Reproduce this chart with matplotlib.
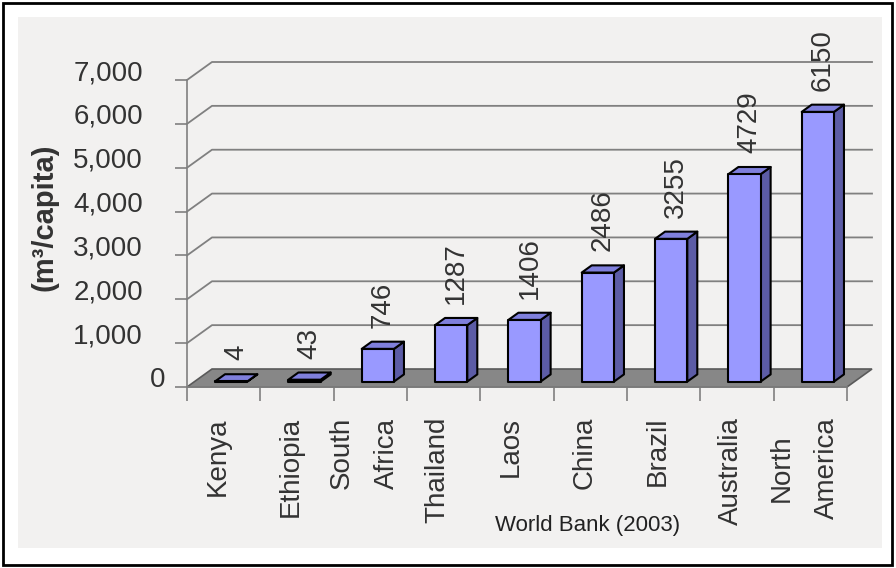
import matplotlib
matplotlib.use("Agg")
import matplotlib.pyplot as plt
import matplotlib.transforms as mtransforms
from matplotlib.patches import Polygon, Rectangle

plt.rcParams['font.family'] = ['Liberation Sans', 'DejaVu Sans']

# data
countries = ['Kenya', 'Ethiopia', 'South\nAfrica', 'Thailand', 'Laos',
             'China', 'Brazil', 'Australia', 'North\nAmerica']
water = [4, 43, 746, 1287, 1406, 2486, 3255, 4729, 6150]
yticks = [0, 1000, 2000, 3000, 4000, 5000, 6000, 7000]

W, H = 896, 568
fig = plt.figure(figsize=(W / 100, H / 100), dpi=100)
fig.patch.set_facecolor('white')

# outer frame and grey chart panel (pixel boxes)
fig.add_artist(Rectangle((18 / W, 1 - 548 / H), 864 / W, 531 / H,
                         transform=fig.transFigure, facecolor='#f2f1f0',
                         edgecolor='none', zorder=0))
fig.add_artist(Rectangle((3 / W, 1 - 565 / H), 889 / W, 562 / H,
                         transform=fig.transFigure, facecolor='none',
                         edgecolor='black', linewidth=2, zorder=1))

# plot area: front of the category axis 187..847 px, value axis 387..80 px
n = len(countries)
ax = fig.add_axes([187 / W, 1 - 387 / H, 660 / W, 307 / H])
ax.set_xlim(0, n)
ax.set_ylim(0, 7000)
ax.patch.set_visible(False)
for s in ['top', 'right']:
    ax.spines[s].set_visible(False)
for s in ['left', 'bottom']:
    ax.spines[s].set_color('#808080')
    ax.spines[s].set_linewidth(1.2)

# depth of the floor in data units (25 px right, 18 px up)
px_x = 660 / n
px_y = 307 / 7000
dxF = 25 / px_x
dyF = 18 / px_y

grid_col = '#808080'
# floor
ax.add_patch(Polygon([(0, 0), (n, 0), (n + dxF, dyF), (dxF, dyF)],
                     closed=True, facecolor='#878787', edgecolor='#5a5a5a',
                     linewidth=1.2, zorder=2, clip_on=False))
# back wall gridlines with diagonals
for v in yticks[1:]:
    ax.plot([0, dxF, n + dxF], [v, v + dyF, v + dyF], color=grid_col,
            linewidth=1.3, zorder=1, clip_on=False)

# y ticks and labels
ax.set_yticks(yticks)
ax.set_yticklabels([])
ax.tick_params(axis='y', direction='out', length=9, width=1.2,
               color=grid_col)
for v in yticks:
    off = -22 if v == 0 else -44
    tr = mtransforms.offset_copy(ax.transData, fig=fig, x=off, y=7,
                                 units='dots')
    ax.text(0, v, '{:,}'.format(v), transform=tr, ha='right', va='center',
            fontsize=20, color='#333333')

# x ticks at category boundaries, labels at centres
ax.set_xticks(range(n + 1))
ax.set_xticklabels([])
ax.tick_params(axis='x', direction='out', length=10, width=1.2,
               color=grid_col)
lab_tr = mtransforms.offset_copy(ax.transData, fig=fig, x=-6, y=-30,
                                 units='dots')
for i, name in enumerate(countries):
    ax.text(i + 0.5, 0, name, transform=lab_tr, rotation=90, ha='center',
            va='top', multialignment='center', linespacing=2.0,
            fontsize=20, color='#333333', clip_on=False)

# 3D bars
bw = 0.44
f0, fd = 0.3, 0.4
ddx, ddy = fd * dxF, fd * dyF
front_col, top_col, side_col = '#9999ff', '#7f7fdc', '#5c5ca6'
val_tr = mtransforms.offset_copy(ax.transData, fig=fig, x=0, y=14,
                                 units='dots')
for i, v in enumerate(water):
    x0 = i + 0.5 - bw / 2 + f0 * dxF
    y0 = f0 * dyF
    kw = dict(closed=True, edgecolor='black', linewidth=1.5, zorder=3,
              clip_on=False, joinstyle='round')
    ax.add_patch(Polygon([(x0 + bw, y0), (x0 + bw + ddx, y0 + ddy),
                          (x0 + bw + ddx, y0 + ddy + v), (x0 + bw, y0 + v)],
                         facecolor=side_col, **kw))
    ax.add_patch(Polygon([(x0, y0 + v), (x0 + bw, y0 + v),
                          (x0 + bw + ddx, y0 + v + ddy),
                          (x0 + ddx, y0 + v + ddy)],
                         facecolor=top_col, **kw))
    ax.add_patch(Polygon([(x0, y0), (x0 + bw, y0), (x0 + bw, y0 + v),
                          (x0, y0 + v)], facecolor=front_col, **kw))
    ax.text(x0 + (bw + ddx) / 2, y0 + v + ddy, str(v), transform=val_tr,
            rotation=90, ha='center', va='bottom', fontsize=20,
            color='#333333', zorder=4, clip_on=False)

# axis titles
fig.text(44 / W, 1 - 217 / H, '(m³/capita)', rotation=90, ha='center',
         va='center', fontsize=21, fontweight='bold', color='#333333')
fig.text(588 / W, 1 - 525 / H, 'World Bank (2003)', ha='center',
         va='center', fontsize=16, color='#222222')

fig.savefig('out.png', dpi=100)
